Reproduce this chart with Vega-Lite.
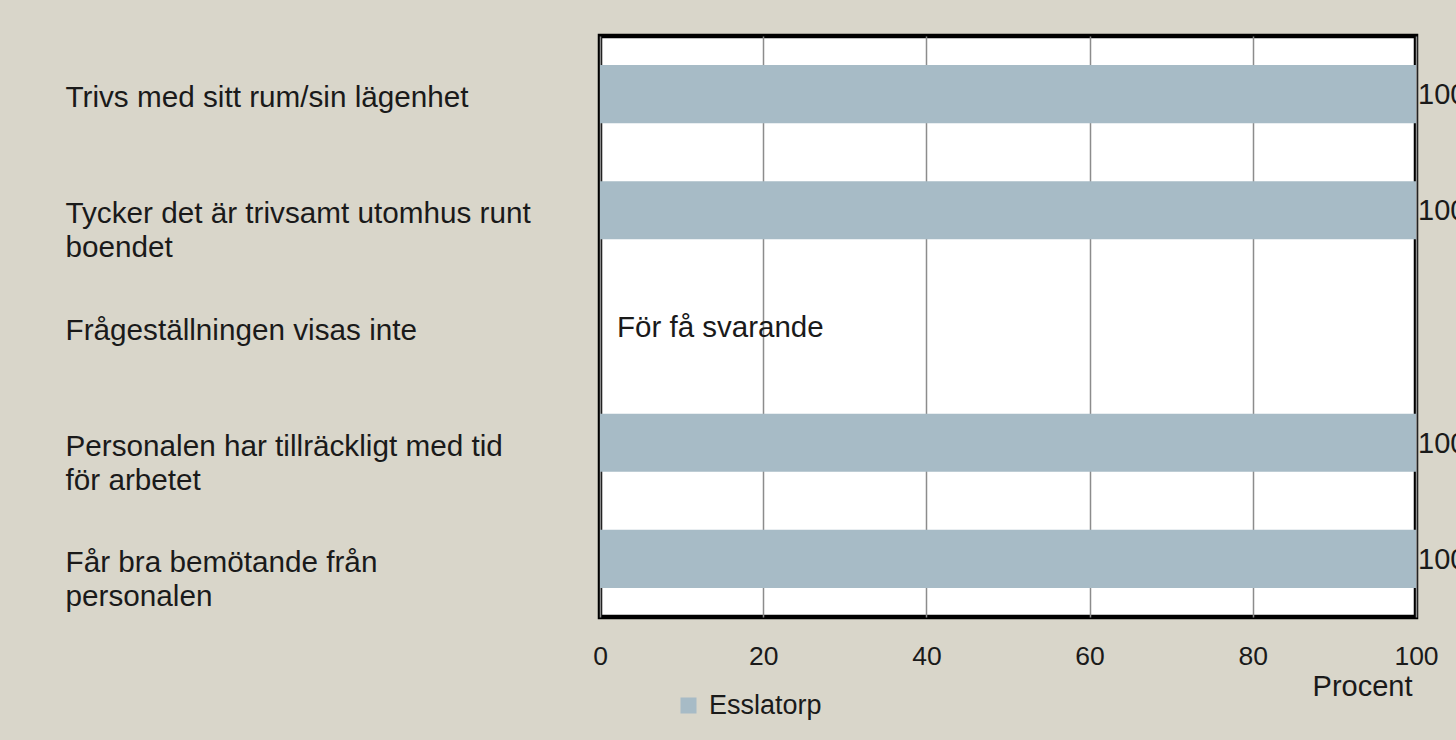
{
  "$schema": "https://vega.github.io/schema/vega-lite/v6.json",
  "width": 816,
  "height": 581,
  "autosize": {"type": "none"},
  "padding": {"left": 600, "top": 36, "right": 40, "bottom": 123},
  "background": "#d9d6ca",
  "config": {
    "view": {"fill": "white", "stroke": "black", "strokeWidth": 4.5},
    "font": "Liberation Sans"
  },
  "data": {
    "values": [
      {"fraga": "Trivs med sitt rum/sin lägenhet", "procent": 100, "grupp": "Esslatorp", "notering": null},
      {"fraga": "Tycker det är trivsamt utomhus runt|boendet", "procent": 100, "grupp": "Esslatorp", "notering": null},
      {"fraga": "Frågeställningen visas inte", "procent": null, "grupp": "Esslatorp", "notering": "För få svarande"},
      {"fraga": "Personalen har tillräckligt med tid|för arbetet", "procent": 100, "grupp": "Esslatorp", "notering": null},
      {"fraga": "Får bra bemötande från|personalen", "procent": 100, "grupp": "Esslatorp", "notering": null}
    ]
  },
  "encoding": {
    "y": {
      "field": "fraga",
      "type": "nominal",
      "sort": null,
      "scale": {
        "domain": [
          "Trivs med sitt rum/sin lägenhet",
          "Tycker det är trivsamt utomhus runt|boendet",
          "Frågeställningen visas inte",
          "Personalen har tillräckligt med tid|för arbetet",
          "Får bra bemötande från|personalen"
        ],
        "paddingInner": 0.5,
        "paddingOuter": 0.25
      },
      "axis": {
        "title": null,
        "domain": false,
        "ticks": false,
        "tickSize": 0,
        "labelAlign": "left",
        "labelBaseline": "alphabetic",
        "labelPadding": 535,
        "labelOffset": 13,
        "labelFontSize": 29.7,
        "labelLineHeight": 34,
        "labelColor": "#1a1a1a",
        "labelLimit": 0,
        "labelExpr": "split(datum.label, '|')"
      }
    }
  },
  "layer": [
    {
      "mark": {"type": "bar"},
      "transform": [{"filter": "isValid(datum.procent)"}],
      "encoding": {
        "x": {
          "field": "procent",
          "type": "quantitative",
          "scale": {"domain": [0, 100], "nice": false},
          "axis": {
            "title": "Procent",
            "grid": true,
            "gridColor": "#8c8c8c",
            "gridWidth": 1.5,
            "domain": false,
            "ticks": false,
            "tickSize": 0,
            "values": [0, 20, 40, 60, 80, 100],
            "labelFlush": false,
            "labelPadding": 26,
            "labelFontSize": 26.5,
            "labelColor": "#1a1a1a",
            "titleFontSize": 29,
            "titleFontWeight": "normal",
            "titleColor": "#1a1a1a",
            "titleX": 812,
            "titleY": 78,
            "titleAlign": "right",
            "titleAnchor": "end",
            "titleBaseline": "alphabetic"
          }
        },
        "color": {
          "field": "grupp",
          "type": "nominal",
          "scale": {"range": ["#a7bbc6"]},
          "legend": {
            "orient": "none",
            "legendX": 75,
            "legendY": 656,
            "title": null,
            "symbolType": "square",
            "symbolSize": 256,
            "symbolStrokeWidth": 0,
            "labelFontSize": 27,
            "labelOffset": 7,
            "labelColor": "#1a1a1a",
            "padding": 0
          }
        }
      }
    },
    {
      "mark": {"type": "text", "align": "left", "baseline": "middle", "dx": 2, "dy": 1, "fontSize": 29, "color": "#1a1a1a"},
      "transform": [{"filter": "isValid(datum.procent)"}],
      "encoding": {
        "x": {"field": "procent", "type": "quantitative"},
        "text": {"field": "procent", "type": "quantitative"}
      }
    },
    {
      "mark": {"type": "text", "align": "left", "baseline": "middle", "dx": 17, "dy": 1, "fontSize": 29.5, "color": "#1a1a1a"},
      "transform": [{"filter": "isValid(datum.notering)"}],
      "encoding": {
        "x": {"datum": 0, "type": "quantitative"},
        "text": {"field": "notering", "type": "nominal"}
      }
    }
  ]
}
